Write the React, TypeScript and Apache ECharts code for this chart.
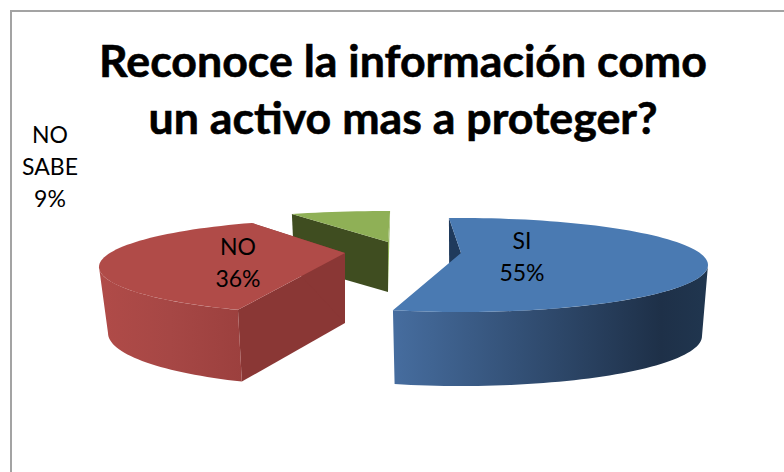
import React, { useEffect, useRef } from "react";
import * as echarts from "echarts";

const titleText = "Reconoce la información como\nun activo mas a proteger?";
const categories = ["SI", "NO", "NO\nSABE"];
const values = [55, 36, 9];

// Projection of each exploded slice: apex, top rim ellipse, bottom rim ellipse, first rim angle, sweep correction.
const apexes = [[461, 253], [345, 253], [388, 242]];
const topRims = [[461, 265, 247, 47], [345, 267, 246, 47.6], [388, 249, 246, 38]];
const bottomRims = [[461, 336, 241, 50], [345, 333, 237, 54], [388, 300, 240, 38]];
const apexDepths = [70, 70, 50];
const startAngles = [-92.8, 115.8, 247];
const sweepScales = [1.004, 1.018, 0.725];
const labelPositions = [[522, 256], [238, 262], [50, 166]];
const topColors = ["#4a7ab2", "#b04b48", "#8fb056"];
const innerColors = ["#1f3a5c", "#8a3735", "#3f4d20"];
const wallStops = [
  ["#466d9f", "#1e3048", "#20364f"],
  ["#b04b48", "#a64745", "#9c403e"],
  ["#8fb056", "#8fb056", "#8fb056"],
];
const wallMidStops = [0.85, 0.5, 0.5];
const drawOrder = [2, 1, 0];

const rad = (d: number) => (d * Math.PI) / 180;
const onRim = (r: number[], t: number) => [r[0] + r[2] * Math.cos(rad(t)), r[1] + r[3] * Math.sin(rad(t))];
const arc = (r: number[], from: number, to: number) => {
  const n = Math.max(2, Math.ceil(Math.abs(to - from) / 2));
  return Array.from({ length: n + 1 }, (_, i) => onRim(r, from + ((to - from) * i) / n));
};

export default function App() {
  const ref = useRef<HTMLDivElement>(null);
  useEffect(() => {
    const chart = echarts.init(ref.current!, undefined, { renderer: "svg" });
    const total = values.reduce((a, b) => a + b, 0);
    const order = drawOrder.map((i) => ({ value: [values[i], i] }));
    chart.setOption({
      animation: false,
      backgroundColor: "#ffffff",
      title: {
        text: titleText,
        left: 398,
        top: 26,
        textAlign: "center",
        textStyle: {
          fontFamily: "Lato",
          fontWeight: "bold",
          fontSize: 44.7,
          lineHeight: 57,
          color: "#000000",
          textBorderColor: "#000000",
          textBorderWidth: 0.6,
        },
      },
      graphic: [
        {
          type: "rect",
          silent: true,
          shape: { x: 11, y: 11, width: 820, height: 520 },
          style: { fill: "none", stroke: "#a3a3a3", lineWidth: 2 },
        },
      ],
      series: [
        {
          type: "custom",
          coordinateSystem: "none",
          silent: true,
          clip: false,
          data: order,
          renderItem: (_p: any, api: any) => {
            const v = api.value(0) as number;
            const i = api.value(1) as number;
            const start = startAngles[i];
            const end = start + (v / total) * 360 * sweepScales[i];
            const apex = apexes[i];
            const apexLow = [apex[0], apex[1] + apexDepths[i]];
            const top = topRims[i];
            const low = bottomRims[i];
            const children: any[] = [];
            children.push({
              type: "polygon",
              shape: { points: [onRim(top, start), apex, apexLow, onRim(low, start)] },
              style: { fill: innerColors[i] },
            });
            if (i !== 0) {
              children.push({
                type: "polygon",
                shape: { points: [apex, onRim(top, end), apexLow] },
                style: { fill: i === 2 ? topColors[i] : innerColors[i] },
              });
            }
            const from = Math.max(start, 0);
            const to = Math.min(end, 180);
            if (to > from) {
              const a = arc(top, from, to);
              const b = arc(low, from, to).reverse();
              children.push({
                type: "polygon",
                shape: { points: [...a, ...b] },
                style: {
                  fill: new echarts.graphic.LinearGradient(0, 0, 1, 0, [
                    { offset: 0, color: wallStops[i][0] },
                    { offset: wallMidStops[i], color: wallStops[i][1] },
                    { offset: 1, color: wallStops[i][2] },
                  ]),
                },
              });
            }
            children.push({
              type: "polygon",
              shape: { points: [apex, ...arc(top, start, end)] },
              style: { fill: topColors[i] },
            });
            const pos = labelPositions[i];
            children.push({
              type: "text",
              style: {
                text: `${categories[i]}\n${Math.round((v / total) * 100)}%`,
                x: pos[0],
                y: pos[1],
                align: "center",
                verticalAlign: "middle",
                fontFamily: "Lato",
                fontSize: 23,
                lineHeight: 32,
                fill: "#000000",
              },
            });
            return { type: "group", children };
          },
        },
      ],
    });
    return () => chart.dispose();
  }, []);
  return <div ref={ref} style={{ position: "fixed", left: 0, top: 0, width: 784, height: 472 }} />;
}
